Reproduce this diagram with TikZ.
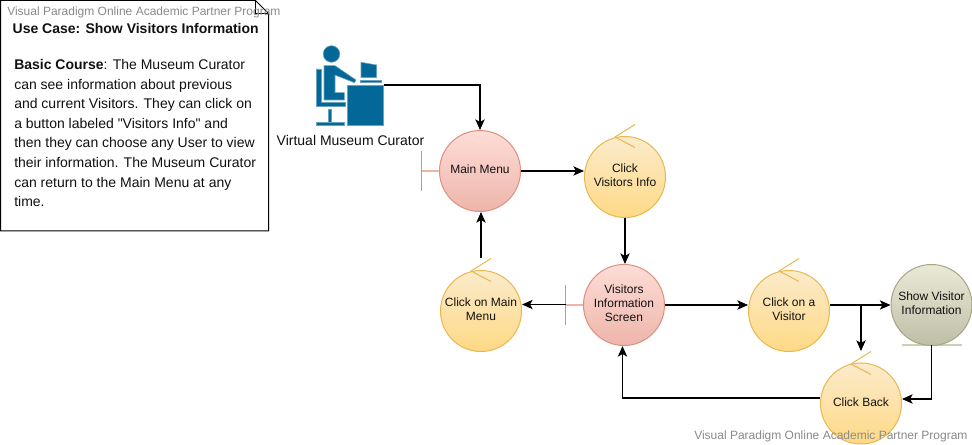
\documentclass[tikz,border=0pt]{standalone}
\usepackage{fontspec}
\setmainfont{Liberation Sans}
\newfontfamily\plainf{Liberation Sans}
\usetikzlibrary{arrows.meta,calc}
\definecolor{redtop}{HTML}{FDDDD6}
\definecolor{redbot}{HTML}{EEB5AB}
\definecolor{redln}{HTML}{DC9080}
\definecolor{redbar}{HTML}{EDB5A8}
\definecolor{yeltop}{HTML}{FBEBCB}
\definecolor{yelbot}{HTML}{FFD985}
\definecolor{yelln}{HTML}{E8B850}
\definecolor{grytop}{HTML}{E9E9D6}
\definecolor{grybot}{HTML}{BFBFA8}
\definecolor{gryln}{HTML}{A5A588}
\definecolor{grybar}{HTML}{CFCFB4}
\definecolor{actorblue}{HTML}{036897}
\definecolor{wm}{HTML}{8A8A8A}
\definecolor{txt}{HTML}{111111}
\tikzset{
  x=0.75pt,y=-0.75pt,
  circ/.style={circle,inner sep=0pt,minimum size=60.75pt,line width=0.75pt},
  ctext/.style={align=center,font=\fontsize{9}{10.5}\selectfont,text=txt,inner sep=0pt,yshift=1.5pt},
  boundary/.style={circ,draw=redln,top color=redtop,bottom color=redbot},
  control/.style={circ,draw=yelln,top color=yeltop,bottom color=yelbot},
  entity/.style={circ,draw=gryln,top color=grytop,bottom color=grybot},
  barline/.style={draw=redln,line width=0.75pt},
  stub/.style={draw=redbar,line width=1pt},
  tickline/.style={draw=yelln,line width=0.75pt},
  flow/.style={draw=black,line width=0.85pt,-{Stealth[length=8pt,width=7pt,inset=2pt]}},
  watermark/.style={font=\fontsize{9}{10}\selectfont,text=wm,inner sep=0pt,anchor=west},
  notetext/.style={font=\fontsize{10.5}{14.7}\selectfont,text=txt,inner sep=0pt,align=left,anchor=north west},
  actorfill/.style={fill=actorblue,draw=actorblue!60!white,line width=0.4pt},
}
\newcommand{\ctick}[1]{%
  \draw[tickline] ($(#1)+(20,-12.5)$) -- ($(#1)+(0,0)$) -- ($(#1)+(20,10.5)$);}
\begin{document}
\begin{tikzpicture}
\useasboundingbox (0,0) rectangle (972,445);
\fill[white] (0,0) rectangle (972,445);
% note
\draw[black,line width=0.75pt,fill=white] (0.5,0.5) -- (255.5,0.5) -- (268.5,13.5) -- (268.5,231) -- (0.5,231) -- cycle;
\draw[black,line width=0.5pt] (255.5,0.5) -- (255.5,13.5) -- (268.5,13.5);
\node[font=\bfseries\fontsize{10.5}{12}\selectfont,text=txt,inner sep=0pt] (title) at (135.7,28.7) {Use Case: Show Visitors Information};
\node[notetext] (body) at (14,59) {\textbf{Basic Course}: The Museum Curator\\can see information about previous\\and current Visitors. They can click on\\a button labeled {\plainf"}Visitors Info{\plainf"} and\\then they can choose any User to view\\their information. The Museum Curator\\can return to the Main Menu at any\\time.};
% actor
\node[inner sep=0pt,minimum width=51pt,minimum height=60.75pt] (actor) at (350,85.5) {};
\fill[actorfill] (331.5,54) circle[radius=8.3];
\fill[actorfill] (316.7,69) -- (321,69) -- (321,102.5) -- (345,102.5) -- (345,106.7) -- (316.7,106.7) -- cycle;
\fill[actorfill] (328,109) rectangle (331.7,122.7);
\fill[actorfill] (316.5,122.7) rectangle (344,125.7);
\fill[actorfill] (324,65.7) -- (335,65.7) -- (356,80) -- (354.5,82.7) -- (335,75) -- (335,92.7) -- (344.3,92.7) -- (344.3,100) -- (324,100) -- cycle;
\fill[actorfill] (347.3,85.7) rectangle (383.3,125);
\fill[actorfill] (361,62.3) -- (376.7,65) -- (376.7,77.7) -- (361,77.7) -- cycle;
\fill[actorfill] (360.3,80) rectangle (381,82.7);
\node[font=\fontsize{10.5}{12}\selectfont,text=txt,inner sep=0pt] (actorlabel) at (350.5,140) {Virtual Museum Curator};
% bars
\draw[stub] (421.5,171) -- (440,171);
\draw[barline] (421.5,151) -- (421.5,191);
\draw[stub] (565.5,305) -- (583,305);
\draw[barline] (565.5,285) -- (565.5,325);
\draw[grybar,line width=1.5pt] (901.7,345) -- (961.7,345);
% circles
\node[boundary,label={[ctext]center:Main Menu}] (mm) at (480,171) {};
\node[control,label={[ctext]center:{Click\\Visitors Info}}] (ci) at (625,177) {};
\node[control,label={[ctext]center:{Click on Main\\Menu}}] (cm) at (481,311) {};
\node[boundary,label={[ctext]center:{Visitors\\Information\\Screen}}] (vis) at (624,305) {};
\node[control,label={[ctext]center:{Click on a\\Visitor}}] (cv) at (789,311) {};
\node[entity,label={[ctext]center:{Show Visitor\\Information}}] (show) at (931.5,305) {};
\node[control,label={[ctext,yshift=-0.75pt]center:Click Back}] (cb) at (861,403.5) {};
\ctick{615,137}
\ctick{471,271}
\ctick{779,271}
\ctick{851,364}
% connectors
\coordinate (cmtop) at (481,258);
\coordinate (visbar) at (565.5,304.5);
\coordinate (cbarrow) at (861,351);
\coordinate (showbot) at (931.5,345);
\coordinate (actorout) at (384,85);
\draw[flow] (actorout) -| (mm.north);
\draw[flow] (mm.east) -- (mm.east -| ci.west);
\draw[flow] (ci.south) -- (ci.south |- vis.north);
\draw[flow] (visbar) -- (visbar -| cm.east);
\draw[flow] (cmtop) -- (mm.south -| cmtop);
\draw[flow] (vis.east) -- (vis.east -| cv.west);
\draw[flow] (vis.east -| cv.east) -- (vis.east -| show.west);
\draw[flow] (vis.east -| cv.east) -| (cbarrow);
\draw[flow] (showbot) |- ($(cb.east)+(0,-4.5)$);
\draw[flow] ($(cb.west)+(0,-5.5)$) -| ($(vis.south)+(-1.5,0)$);
% watermarks
\node[watermark] (wm1) at (7,12) {Visual Paradigm Online Academic Partner Program};
\node[watermark] (wm2) at (694,436) {Visual Paradigm Online Academic Partner Program};
\end{tikzpicture}
\end{document}
